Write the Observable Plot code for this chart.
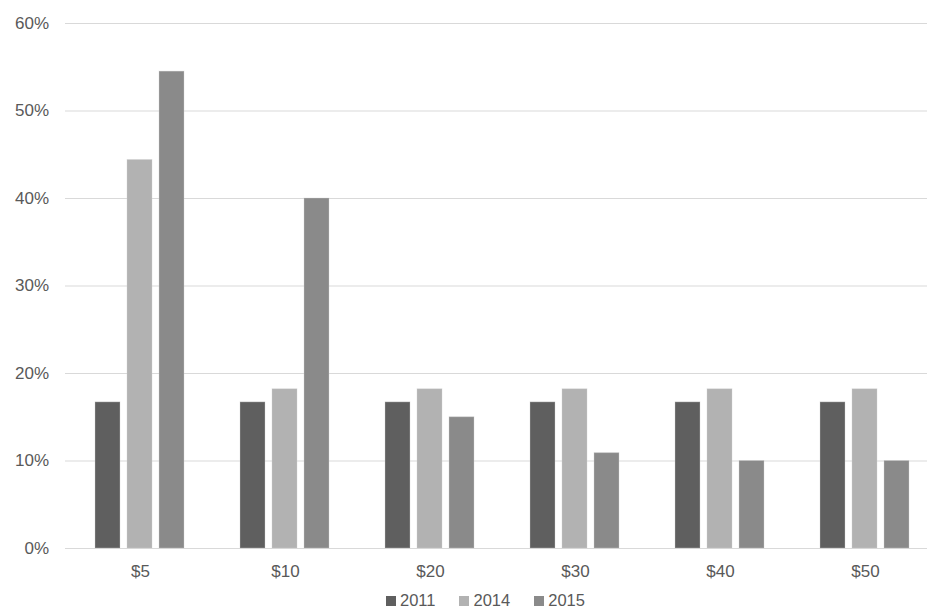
<!DOCTYPE html>
<html>
<head>
<meta charset="utf-8">
<script src="https://cdn.jsdelivr.net/npm/d3@7"></script>
<script src="https://cdn.jsdelivr.net/npm/@observablehq/plot@0.6"></script>
<style>
  html, body { margin: 0; padding: 0; background: #fff; overflow: hidden; width: 927px; height: 608px; }
  #wrap { position: relative; width: 927px; height: 608px; overflow: hidden; font-family: "Liberation Sans", Arial, sans-serif; }
  #grid, #bars { position: absolute; left: 0; top: 0; width: 939px; }
  #grid svg, #bars svg { display: block; max-width: none !important; width: 939px !important; height: 585px !important; }
  #legend { position: absolute; left: 386px; top: 591px; display: flex; align-items: center; font-size: 16.5px; color: #595959; line-height: 18px; }
  #legend .item { display: flex; align-items: center; margin-right: 24px; }
  #legend .sw { width: 10px; height: 10px; margin-right: 4px; margin-top: 1px; }
</style>
</head>
<body>
<div id="wrap">
  <div id="grid"></div>
  <div id="bars"></div>
  <div id="legend"></div>
</div>
<script>
const categories = ["$5", "$10", "$20", "$30", "$40", "$50"];
const years = ["2011", "2014", "2015"];
const values2011 = [16.7, 16.7, 16.7, 16.7, 16.7, 16.7];
const values2014 = [44.4, 18.2, 18.2, 18.2, 18.2, 18.2];
const values2015 = [54.5, 40.0, 15.0, 10.9, 10.0, 10.0];
const colors = ["#5f5f5f", "#b2b2b2", "#8a8a8a"];
const yTicks = [0, 10, 20, 30, 40, 50, 60];
const yTickLabels = ["0%", "10%", "20%", "30%", "40%", "50%", "60%"];

const series = [values2011, values2014, values2015];
const data = [];
categories.forEach((c, i) => {
  years.forEach((y, j) => data.push({cat: c, year: y, value: series[j][i]}));
});
const yTickData = yTicks.map((t, i) => ({t, label: yTickLabels[i]}));

const dims = {width: 939, height: 585, marginTop: 23, marginBottom: 37, marginLeft: 65, marginRight: 0};
const font = "'Liberation Sans', Arial, sans-serif";

const grid = Plot.plot({
  ...dims,
  style: {fontFamily: font, fontSize: "17px", color: "#595959", background: "#fff"},
  y: {domain: [0, 60], axis: null},
  marks: [
    Plot.ruleY(yTickData, {y: "t", stroke: "#d9d9d9", strokeWidth: 1}),
    Plot.text(yTickData, {y: "t", text: "label", frameAnchor: "left", textAnchor: "end", dx: -16.5, fill: "#595959", fontSize: 17})
  ]
});
document.getElementById("grid").appendChild(grid);

const bars = Plot.plot({
  ...dims,
  style: {fontFamily: font, fontSize: "17px", color: "#595959", background: "transparent"},
  fx: {domain: categories, paddingInner: 0.382, paddingOuter: 0.191, axis: "bottom", tickSize: 0, tickPadding: 16, label: null},
  x: {domain: years, paddingInner: 0.207, paddingOuter: 0, axis: null},
  y: {domain: [0, 60], axis: null},
  color: {domain: years, range: colors},
  marks: [
    Plot.barY(data, {fx: "cat", x: "year", y: "value", fill: "year", inset: 0, stroke: "#d0d0d0", strokeOpacity: 0.35, strokeWidth: 1})
  ]
});
document.getElementById("bars").appendChild(bars);

const legend = document.getElementById("legend");
years.forEach((y, i) => {
  const item = document.createElement("div");
  item.className = "item";
  const sw = document.createElement("span");
  sw.className = "sw";
  sw.style.background = colors[i];
  const t = document.createElement("span");
  t.textContent = y;
  item.appendChild(sw);
  item.appendChild(t);
  legend.appendChild(item);
});
</script>
</body>
</html>
